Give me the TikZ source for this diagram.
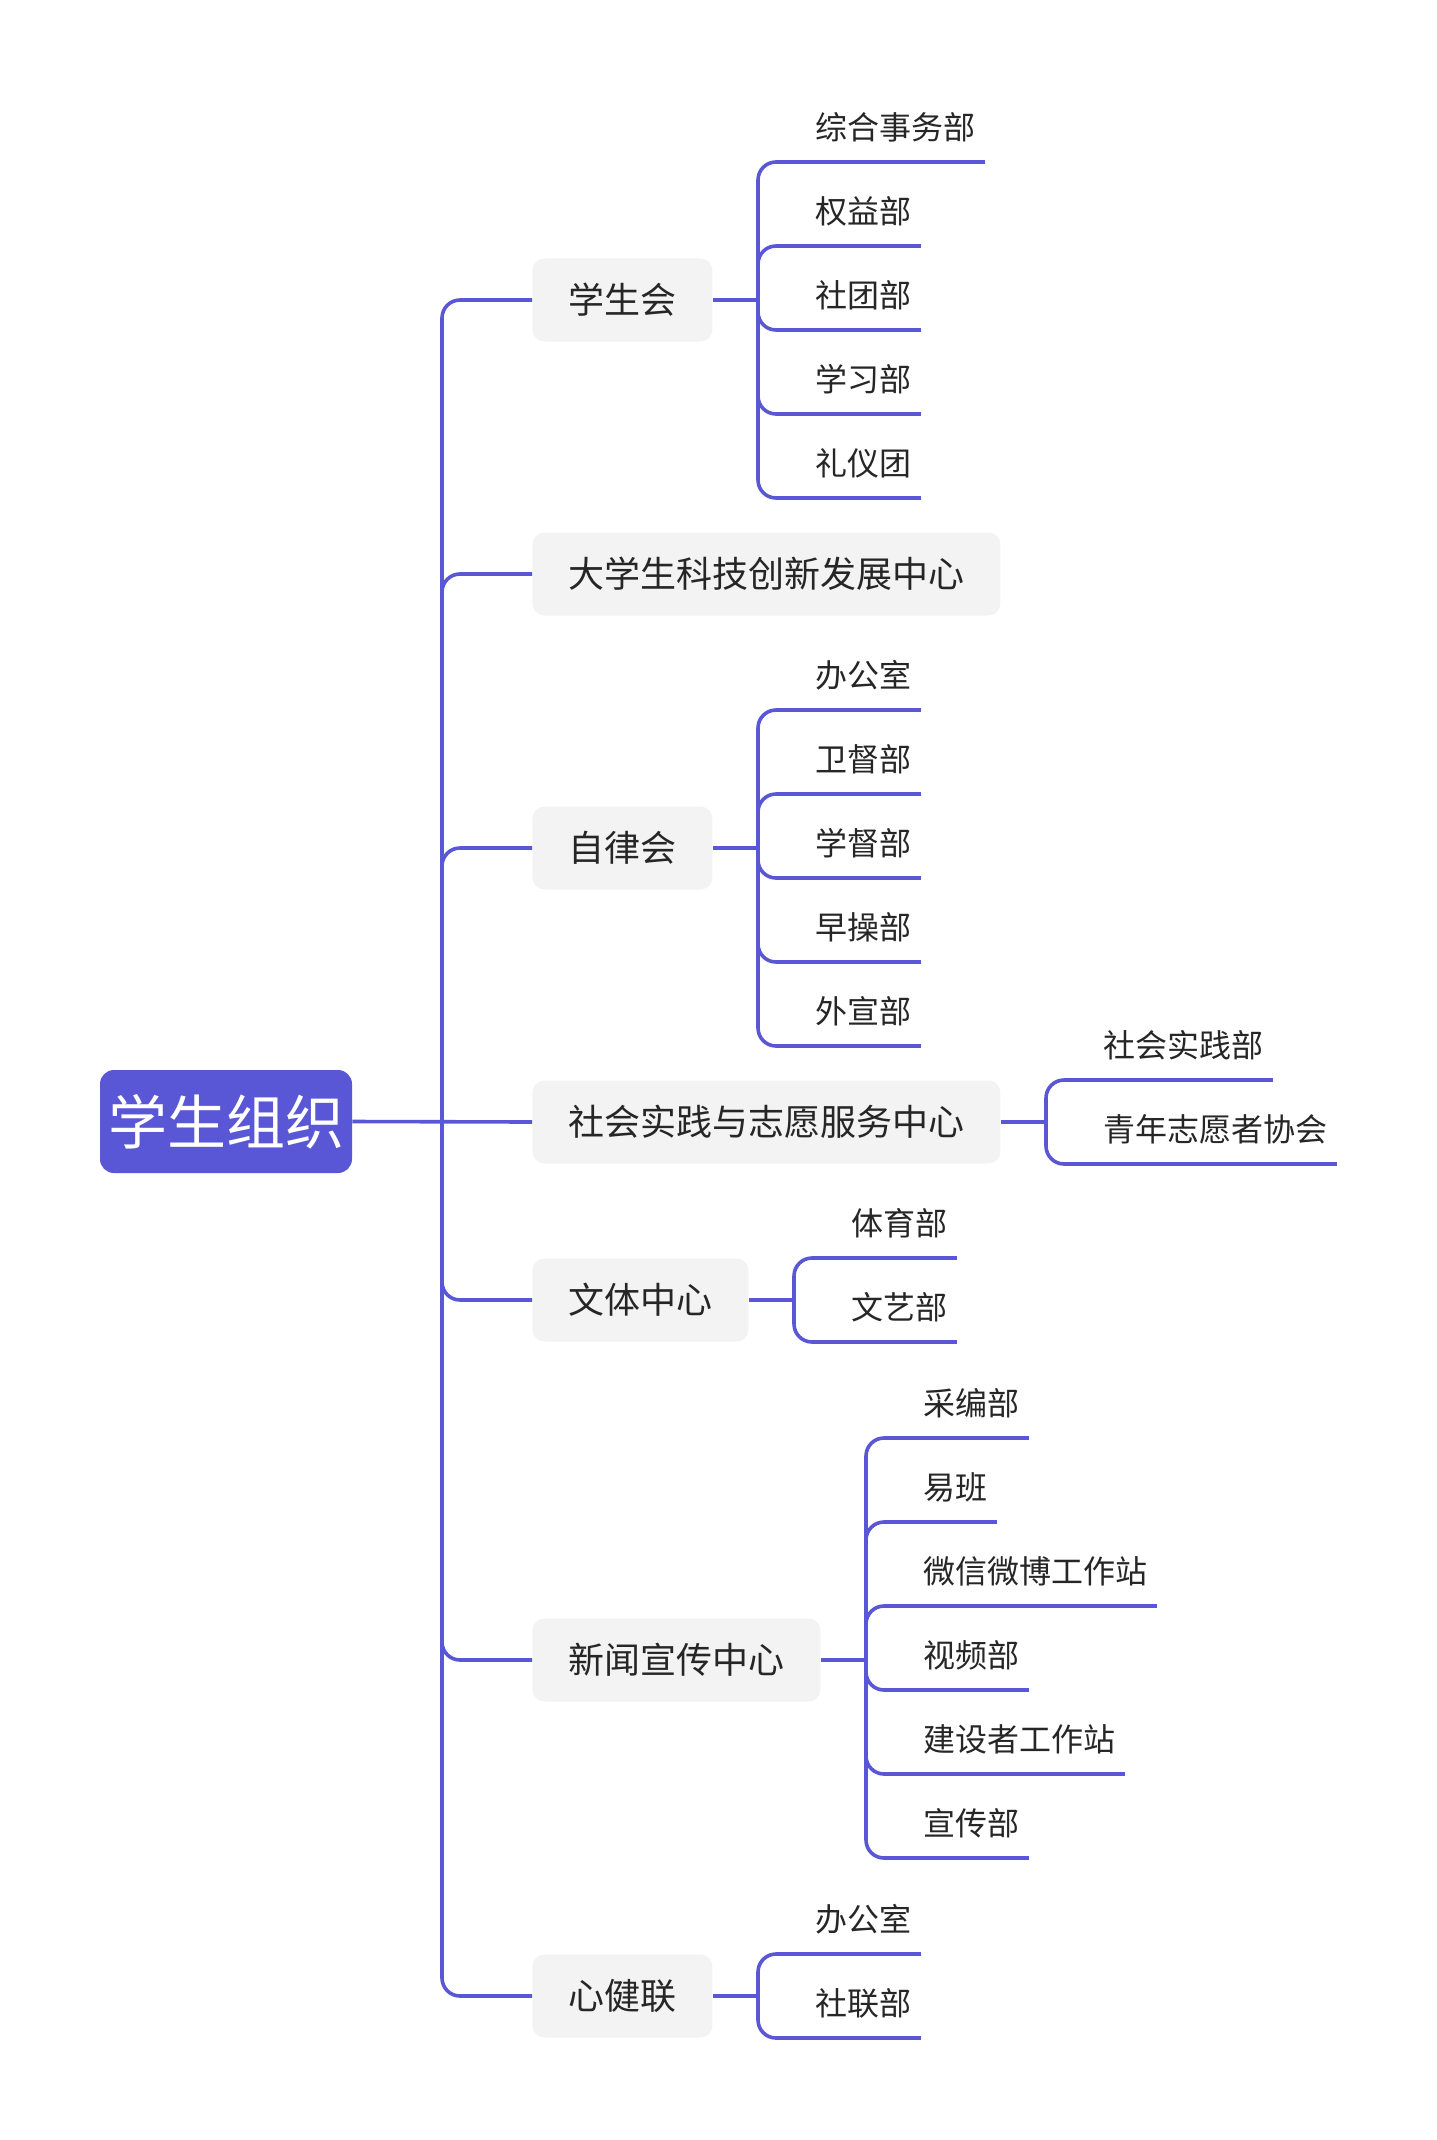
\documentclass[tikz,border=0pt]{standalone}
\usepackage{fontspec}
\newfontfamily\cjk{Noto Sans CJK SC}
\usetikzlibrary{calc, positioning}
\definecolor{mindline}{HTML}{5A57D6}
\definecolor{topicgray}{HTML}{F3F3F3}
\definecolor{inktext}{HTML}{262626}
\tikzset{
  link/.style={draw=mindline, line width=1.8pt, rounded corners=9pt},
  topic/.style={fill=topicgray, rounded corners=6pt, inner xsep=18pt, inner ysep=0pt,
    minimum height=41.5pt, anchor=west, text=inktext, font=\cjk\fontsize{18}{18}\selectfont},
  leaf/.style={anchor=south west, inner xsep=4.5pt, inner ysep=0pt, text height=13pt,
    text depth=11pt, text=inktext, font=\cjk\fontsize{16}{16}\selectfont},
  rootbox/.style={fill=mindline, rounded corners=7pt, minimum width=126pt, minimum height=51.5pt,
    inner sep=0pt, text=white, font=\cjk\fontsize{29.5}{29.5}\selectfont},
}

\begin{document}
\begin{tikzpicture}[x=0.5pt, y=-0.5pt]
  \useasboundingbox (0,0) rectangle (1436,2140);
  % central topic
  \node[rootbox] (root) at (226,1121.5) {学生组织};
  \coordinate (trunk) at (442,1122);
  % main branches
  \node[topic] (xsh) at (532,300) {学生会};
  \node[topic] (kj) at (532,574) {大学生科技创新发展中心};
  \node[topic] (zlh) at (532,848) {自律会};
  \node[topic] (sj) at (532,1122) {社会实践与志愿服务中心};
  \node[topic] (wt) at (532,1300) {文体中心};
  \node[topic] (xw) at (532,1660) {新闻宣传中心};
  \node[topic] (xjl) at (532,1996) {心健联};
  \draw[link] (root.east) -- (sj.west);
  \draw[link] (trunk) |- (xsh.west);
  \draw[link] (trunk) |- (kj.west);
  \draw[link] (trunk) |- (zlh.west);
  \draw[link] (trunk) |- (wt.west);
  \draw[link] (trunk) |- (xw.west);
  \draw[link] (trunk) |- (xjl.west);
  % student union
  \coordinate (jxsh) at (758,300);
  \node[leaf] (xsh1) at (806,162) {综合事务部};
  \node[leaf] (xsh2) at (806,246) {权益部};
  \node[leaf] (xsh3) at (806,330) {社团部};
  \node[leaf] (xsh4) at (806,414) {学习部};
  \node[leaf] (xsh5) at (806,498) {礼仪团};
  \draw[link] (xsh.east) -- (jxsh);
  \draw[link] (jxsh) |- (xsh1.south east);
  \draw[link] (jxsh) |- (xsh2.south east);
  \draw[link] (jxsh) |- (xsh3.south east);
  \draw[link] (jxsh) |- (xsh4.south east);
  \draw[link] (jxsh) |- (xsh5.south east);
  % self-discipline
  \coordinate (jzlh) at (758,848);
  \node[leaf] (zlh1) at (806,710) {办公室};
  \node[leaf] (zlh2) at (806,794) {卫督部};
  \node[leaf] (zlh3) at (806,878) {学督部};
  \node[leaf] (zlh4) at (806,962) {早操部};
  \node[leaf] (zlh5) at (806,1046) {外宣部};
  \draw[link] (zlh.east) -- (jzlh);
  \draw[link] (jzlh) |- (zlh1.south east);
  \draw[link] (jzlh) |- (zlh2.south east);
  \draw[link] (jzlh) |- (zlh3.south east);
  \draw[link] (jzlh) |- (zlh4.south east);
  \draw[link] (jzlh) |- (zlh5.south east);
  % social practice
  \coordinate (jsj) at (1046,1122);
  \node[leaf] (sj1) at (1094,1080) {社会实践部};
  \node[leaf] (sj2) at (1094,1164) {青年志愿者协会};
  \draw[link] (sj.east) -- (jsj);
  \draw[link] (jsj) |- (sj1.south east);
  \draw[link] (jsj) |- (sj2.south east);
  % culture and sports
  \coordinate (jwt) at (794,1300);
  \node[leaf] (wt1) at (842,1258) {体育部};
  \node[leaf] (wt2) at (842,1342) {文艺部};
  \draw[link] (wt.east) -- (jwt);
  \draw[link] (jwt) |- (wt1.south east);
  \draw[link] (jwt) |- (wt2.south east);
  % news and publicity
  \coordinate (jxw) at (866,1660);
  \node[leaf] (xw1) at (914,1438) {采编部};
  \node[leaf] (xw2) at (914,1522) {易班};
  \node[leaf] (xw3) at (914,1606) {微信微博工作站};
  \node[leaf] (xw4) at (914,1690) {视频部};
  \node[leaf] (xw5) at (914,1774) {建设者工作站};
  \node[leaf] (xw6) at (914,1858) {宣传部};
  \draw[link] (xw.east) -- (jxw);
  \draw[link] (jxw) |- (xw1.south east);
  \draw[link] (jxw) |- (xw2.south east);
  \draw[link] (jxw) |- (xw3.south east);
  \draw[link] (jxw) |- (xw4.south east);
  \draw[link] (jxw) |- (xw5.south east);
  \draw[link] (jxw) |- (xw6.south east);
  % mental health
  \coordinate (jxjl) at (758,1996);
  \node[leaf] (xjl1) at (806,1954) {办公室};
  \node[leaf] (xjl2) at (806,2038) {社联部};
  \draw[link] (xjl.east) -- (jxjl);
  \draw[link] (jxjl) |- (xjl1.south east);
  \draw[link] (jxjl) |- (xjl2.south east);
\end{tikzpicture}
\end{document}
